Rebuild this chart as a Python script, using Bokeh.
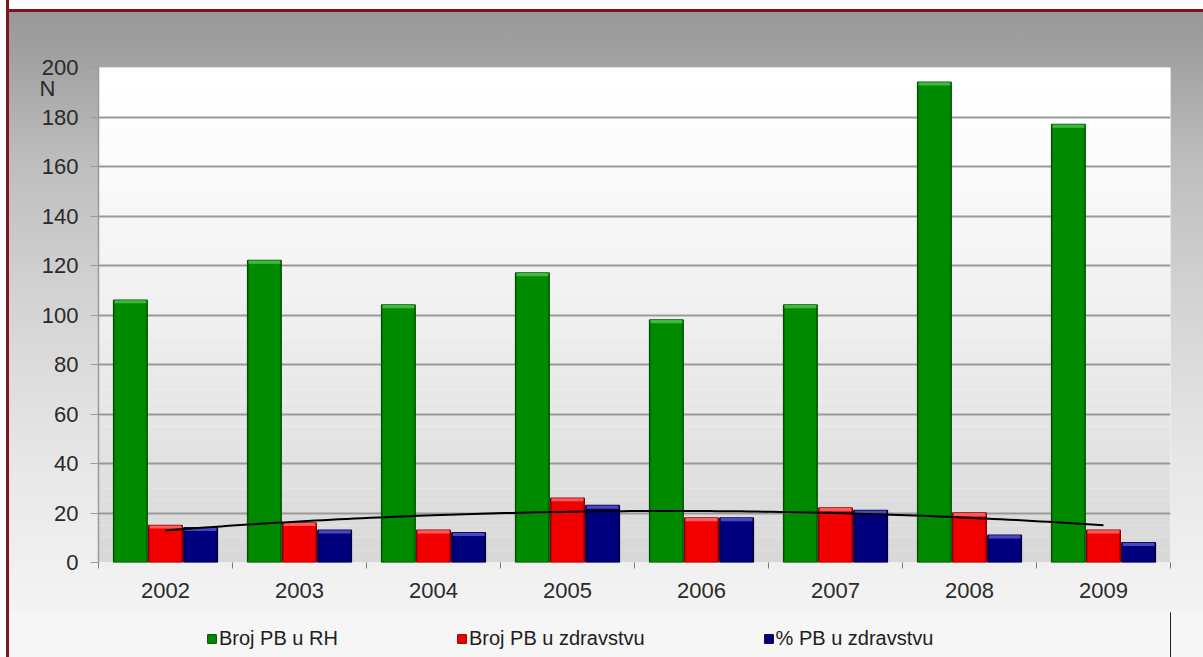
import numpy as np
from bokeh.plotting import figure
from bokeh.layouts import column
from bokeh.models import (ColumnDataSource, FixedTicker, BoxAnnotation, Legend,
                          LegendItem, LinearAxis)
from bokeh.embed import file_html
from bokeh.resources import INLINE

# ---- data ----
years = ["2002", "2003", "2004", "2005", "2006", "2007", "2008", "2009"]
broj_rh = [106, 122, 104, 117, 98, 104, 194, 177]
broj_zdr = [15, 16, 13, 26, 18, 22, 20, 13]
pct_zdr = [14, 13, 12, 23, 18, 21, 11, 8]
y_ticks = [0, 20, 40, 60, 80, 100, 120, 140, 160, 180, 200]
series_names = ["Broj PB u RH", "Broj PB u zdravstvu", "% PB u zdravstvu"]
series_colors = ["#008a00", "#f20000", "#00007e"]
series_edges = ["#005000", "#900000", "#000038"]
series_caps = ["#3dbb3d", "#ff5a5a", "#4848c0"]
unit_label = "N"

FONT = "Liberation Sans"
n = len(years)
centers = [i + 0.5 for i in range(n)]

W, H_MAIN, H_LEG = 1203, 612, 45
BL, BR = 98, 33
LEFT_EDGE = "inset 6px 0 0 #ffffff, inset 9px 0 0 #7d1420"

p = figure(width=W, height=H_MAIN, output_backend="svg", toolbar_location=None,
           x_range=(0, n), y_range=(0, 200),
           min_border_left=BL, min_border_right=BR, min_border_top=67,
           min_border_bottom=50)
p.border_fill_color = None
p.background_fill_color = "white"
p.outline_line_color = None
p.styles = {
    "background": (
        "linear-gradient(to bottom, #ffffff 0px, #ffffff 9px, #7d1420 9px, "
        "#7d1420 12px, #989898 12px, #a2a2a2 60px, #bdbdbd 160px, "
        "#d2d2d2 290px, #e6e6e6 450px, #f4f4f4 612px)"
    ),
    "box-shadow": LEFT_EDGE,
}

# frame gradient (white top -> light gray bottom)
nb = 40
for k in range(nb):
    t = k / (nb - 1)
    c = int(round(255 - (255 - 216) * (1 - t) ** 1.3))
    p.add_layout(BoxAnnotation(left=0, right=n, bottom=200 * k / nb,
                               top=200 * (k + 1) / nb,
                               fill_color=(c, c, c), fill_alpha=1.0,
                               line_color=None, level="image"))

# grid
p.xgrid.grid_line_color = None
p.ygrid.ticker = FixedTicker(ticks=y_ticks)
p.ygrid.grid_line_color = "#9a9a9a"
p.ygrid.grid_line_width = 2
p.ygrid.level = "underlay"

bw = 0.25
off = 0.262
cap = 1.3
src = ColumnDataSource(dict(
    xg=[c - off for c in centers], xr=centers, xb=[c + off for c in centers],
    g=broj_rh, r=broj_zdr, b=pct_zdr,
    gc=[v - cap for v in broj_rh], rc=[v - cap for v in broj_zdr],
    bc=[v - cap for v in pct_zdr]))

for xk, tk, ck, i in (("xg", "g", "gc", 0), ("xr", "r", "rc", 1), ("xb", "b", "bc", 2)):
    p.vbar(x=xk, top=tk, width=bw, source=src, fill_color=series_colors[i],
           line_color=series_edges[i], line_width=1.5)
    p.vbar(x=xk, top=tk, bottom=ck, width=bw - 0.012, source=src,
           fill_color=series_caps[i], line_color=None)

# polynomial (order 2) trendline of the red series
coef = np.polyfit(centers, broj_zdr, 2)
xs = np.linspace(centers[0], centers[-1], 120)
p.line(xs, np.polyval(coef, xs), line_color="black", line_width=2)

# axes
p.yaxis.ticker = FixedTicker(ticks=y_ticks)
p.yaxis.axis_line_color = "#9a9a9a"
p.yaxis.axis_line_width = 1.5
p.yaxis.major_tick_line_color = "#9a9a9a"
p.yaxis.major_tick_out = 8
p.yaxis.major_tick_in = 0
p.yaxis.minor_tick_line_color = None
p.yaxis.major_label_text_font = FONT
p.yaxis.major_label_text_font_size = "22px"
p.yaxis.major_label_text_color = "#2a2a2a"
p.yaxis.major_label_standoff = 12

# "N" unit label as an extra, tickless axis
nax = LinearAxis(ticker=FixedTicker(ticks=[191.5]),
                 major_label_overrides={191.5: unit_label},
                 axis_line_color=None, major_tick_line_color=None,
                 minor_tick_line_color=None, major_tick_out=0, major_tick_in=0,
                 major_label_standoff=-17, major_label_text_font=FONT,
                 major_label_text_font_size="22px",
                 major_label_text_color="#2a2a2a")
p.add_layout(nax, "left")

p.xaxis.ticker = FixedTicker(ticks=centers, minor_ticks=list(range(n + 1)))
p.xaxis.major_label_overrides = {c: y for c, y in zip(centers, years)}
p.xaxis.major_tick_line_color = None
p.xaxis.minor_tick_line_color = "#7a7a7a"
p.xaxis.minor_tick_out = 6
p.xaxis.minor_tick_in = 0
p.xaxis.axis_line_color = None
p.xaxis.major_label_text_font = FONT
p.xaxis.major_label_text_font_size = "22px"
p.xaxis.major_label_text_color = "#2a2a2a"
p.xaxis.major_label_standoff = 14

# legend strip, same side borders as the main plot
q = figure(width=W, height=H_LEG, output_backend="svg", toolbar_location=None,
           x_range=(0, 1), y_range=(0, 1), min_border_left=BL,
           min_border_right=BR, min_border_top=0, min_border_bottom=0)
q.border_fill_color = None
q.background_fill_color = None
q.outline_line_color = None
q.axis.visible = False
q.grid.visible = False
q.styles = {"background": "#f6f6f6", "box-shadow": LEFT_EDGE}
items = []
for name, col, edge in zip(series_names, series_colors, series_edges):
    r = q.vbar(x=[5], top=[5], width=0.1, fill_color=col, line_color=edge)
    items.append(LegendItem(label=name, renderers=[r]))
legend = Legend(items=items, orientation="horizontal", location=(108, 7),
                background_fill_alpha=0, border_line_color=None,
                label_text_font=FONT, label_text_font_size="20px",
                label_text_color="#202020", glyph_width=11, glyph_height=11,
                label_standoff=2, spacing=118, padding=2, margin=0)
q.add_layout(legend, "center")

lay = column(p, q, spacing=0)

open("out.html", "w").write(file_html(lay, INLINE))
